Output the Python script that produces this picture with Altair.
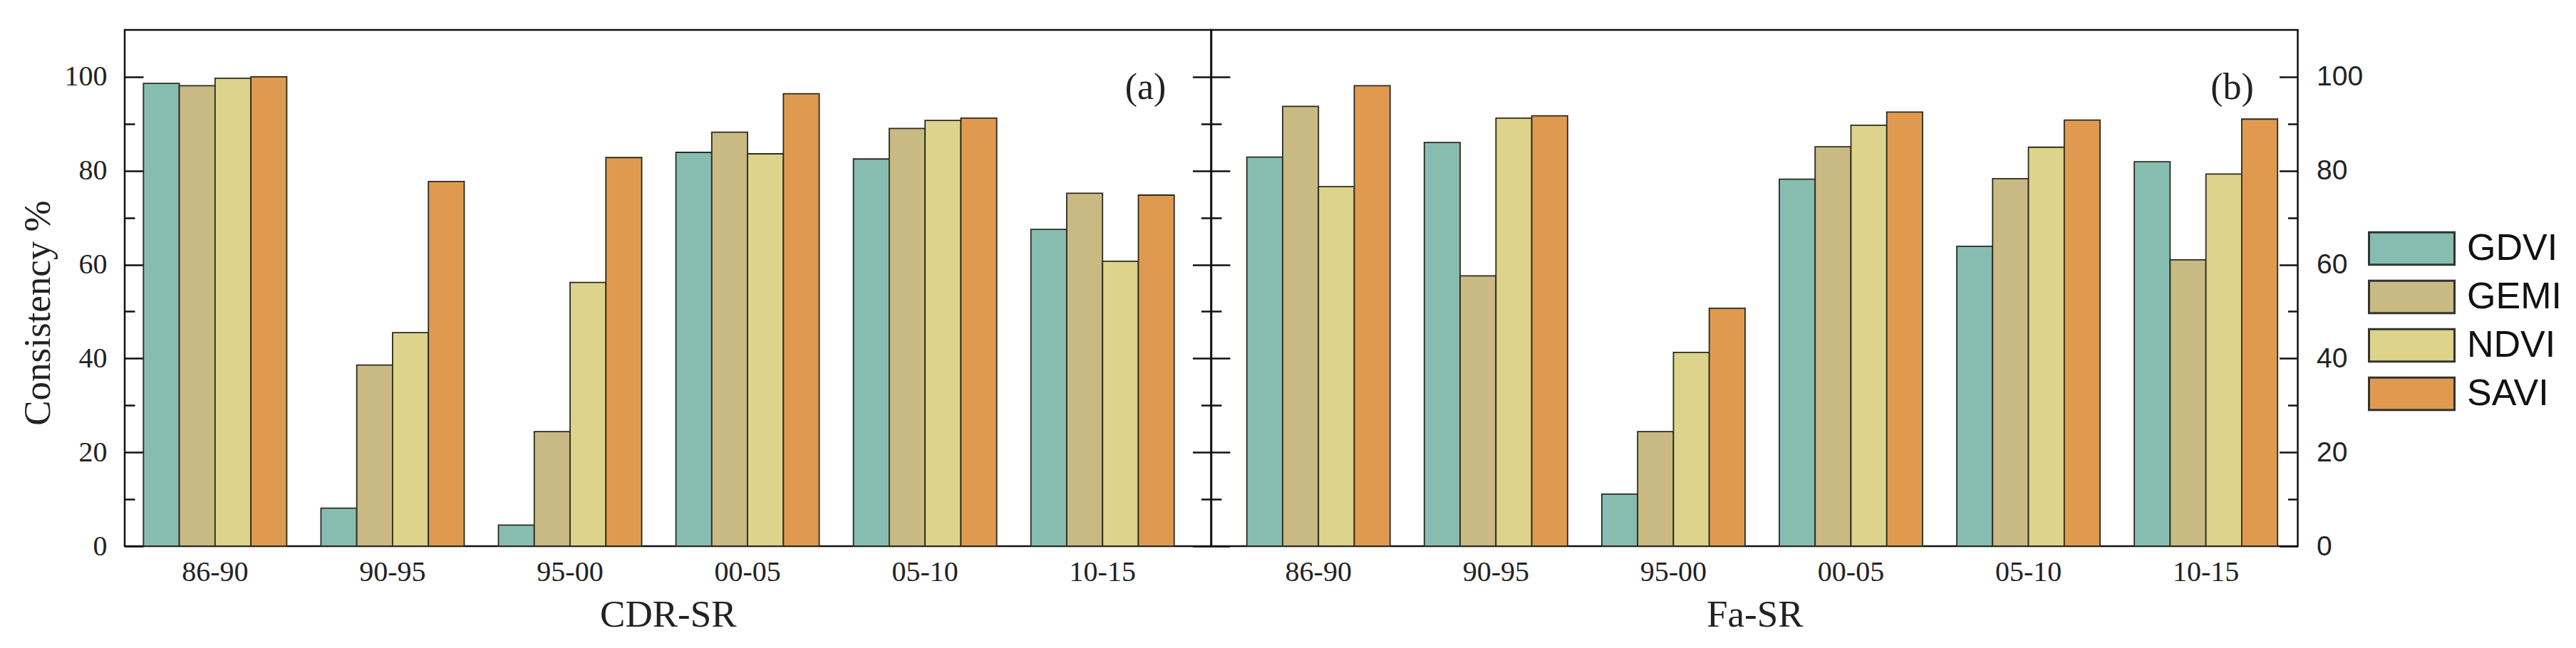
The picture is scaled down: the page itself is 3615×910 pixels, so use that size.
import altair as alt
import pandas as pd

periods = ["86-90", "90-95", "95-00", "00-05", "05-10", "10-15"]
series = ["GDVI", "GEMI", "NDVI", "SAVI"]
colors = ["#86BDB0", "#C9B982", "#DDD38B", "#E09A4F"]

cdr_gdvi = [98.6, 8.1, 4.5, 83.9, 82.5, 67.5]
cdr_gemi = [98.1, 38.6, 24.4, 88.2, 89.0, 75.2]
cdr_ndvi = [99.7, 45.5, 56.2, 83.6, 90.7, 60.7]
cdr_savi = [100.0, 77.7, 82.8, 96.4, 91.2, 74.8]

fa_gdvi = [82.9, 86.0, 11.1, 78.2, 63.9, 81.9]
fa_gemi = [93.7, 57.6, 24.4, 85.1, 78.3, 61.0]
fa_ndvi = [76.6, 91.2, 41.3, 89.7, 85.0, 79.3]
fa_savi = [98.1, 91.7, 50.7, 92.5, 90.8, 91.0]

major_ticks = [0, 20, 40, 60, 80, 100]
minor_ticks = [10, 30, 50, 70, 90]

panels = {
    "CDR-SR": [cdr_gdvi, cdr_gemi, cdr_ndvi, cdr_savi],
    "Fa-SR": [fa_gdvi, fa_gemi, fa_ndvi, fa_savi],
}
tags = {"CDR-SR": "(a)", "Fa-SR": "(b)"}

rows = []
for panel, vals in panels.items():
    for s, arr in zip(series, vals):
        for p, v in zip(periods, arr):
            rows.append({"panel": panel, "period": p, "series": s, "value": v,
                         "tag": tags[panel]})
df = pd.DataFrame(rows)

W = 1524.5
H = 725
SERIF = "Liberation Serif"
SANS = "Liberation Sans"

yscale = alt.Scale(domain=[0, 110], nice=False, zero=True)


def panel_chart(name, align, left_labels):
    base = alt.Chart(df).transform_filter(alt.datum.panel == name)
    xscale = alt.Scale(paddingInner=48 / 249, paddingOuter=39 / 249, align=align)
    xaxis = alt.Axis(orient="bottom", ticks=False, tickSize=0, domain=False,
                     labelAngle=0, labelFont=SERIF, labelFontSize=40,
                     labelColor="#222", labelPadding=16,
                     title=name, titleFont=SERIF, titleFontSize=53,
                     titleFontWeight="normal", titleColor="#222", titlePadding=14)
    xenc = alt.X("period:N", sort=periods, scale=xscale, axis=xaxis)

    def tick_layer(orient, values, size):
        return base.mark_point(opacity=0).encode(
            x=xenc,
            y=alt.Y("value:Q", scale=yscale, axis=alt.Axis(
                orient=orient, offset=-W, values=values, tickSize=size,
                tickWidth=2.5, tickColor="#111", labels=False, domain=False,
                grid=False, title=None)),
        )

    if left_labels:
        yaxis = alt.Axis(orient="left", values=major_ticks, ticks=False, tickSize=0,
                         domain=False, grid=False, labelFont=SERIF, labelFontSize=40,
                         labelColor="#222", labelPadding=25,
                         title="Consistency %", titleFont=SERIF, titleFontSize=53,
                         titleFontWeight="normal", titleColor="#222",
                         titleAngle=270, titleBaseline="alphabetic", titleAlign="center",
                         titleX=-106, titleY=397)
    else:
        yaxis = alt.Axis(orient="right", values=major_ticks, ticks=False, tickSize=0,
                         domain=False, grid=False, labelFont=SANS, labelFontSize=39,
                         labelColor="#222", labelPadding=26, title=None)
    legend = alt.Legend(
        title=None, orient="none", legendX=2 * W + 99, legendY=282,
        symbolType="M-1,-0.38H1V0.38H-1Z", symbolSize=14400,
        symbolStrokeColor="#333", symbolStrokeWidth=3, clipHeight=50,
        rowPadding=16, labelOffset=16, labelFont=SANS, labelFontSize=52,
        labelColor="#111", padding=0, labelBaseline="middle")

    bars = base.mark_bar(stroke="#2b2b22", strokeWidth=1.8).encode(
        x=xenc,
        xOffset=alt.XOffset("series:N", sort=series),
        y=alt.Y("value:Q", scale=yscale, axis=yaxis),
        color=alt.Color("series:N", sort=series,
                        scale=alt.Scale(domain=series, range=colors), legend=legend),
    )
    label = base.transform_filter(
        (alt.datum.series == "GDVI") & (alt.datum.period == "86-90")
    ).mark_text(
        font=SERIF, fontSize=52, align="center", baseline="alphabetic", color="#222"
    ).encode(text="tag:N", x=alt.value(W - 92), y=alt.value(97))

    layers = [
        bars,
        tick_layer("right", major_ticks, 26),
        tick_layer("right", minor_ticks, 14),
        tick_layer("left", major_ticks, 26),
        tick_layer("left", minor_ticks, 14),
        label,
    ]
    return alt.layer(*layers).resolve_axis(y="independent").properties(width=W, height=H)


left = panel_chart("CDR-SR", 26.3 / 78, True)
right = panel_chart("Fa-SR", 49.7 / 78, False)

chart = alt.hconcat(left, right, spacing=0, bounds="flush").properties(
    padding={"left": 17, "top": 32, "right": 5, "bottom": 5}
).configure(background="white").configure_view(stroke="#111", strokeWidth=2.5)

chart.save("out.html", embed_options={"renderer": "svg", "actions": False})
